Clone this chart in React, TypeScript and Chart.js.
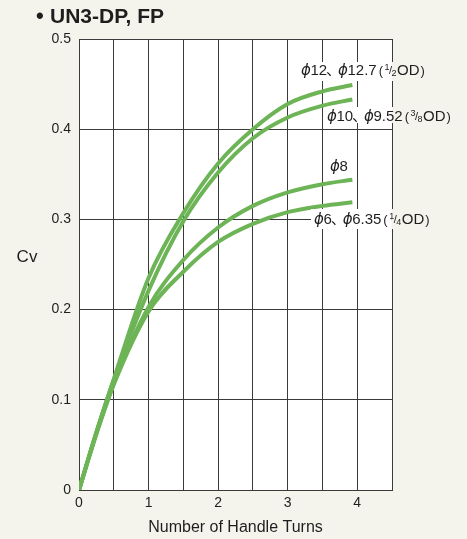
import React, { useEffect, useRef } from 'react';
import { Chart, registerables } from 'chart.js';

Chart.register(...registerables);

// ---- data ----
const turns = [0, 0.25, 0.5, 1, 1.5, 2, 2.5, 3, 3.5, 3.93];
const cv12 = [0, 0.064, 0.123, 0.235, 0.307, 0.362, 0.4, 0.428, 0.442, 0.449];
const cv10 = [0, 0.064, 0.122, 0.221, 0.298, 0.352, 0.39, 0.413, 0.426, 0.433];
const cv8 = [0, 0.063, 0.118, 0.203, 0.255, 0.291, 0.315, 0.33, 0.339, 0.344];
const cv6 = [0, 0.062, 0.117, 0.198, 0.242, 0.275, 0.295, 0.308, 0.315, 0.319];

const seriesNames = ['ϕ12、ϕ12.7', 'ϕ10、ϕ9.52', 'ϕ8', 'ϕ6、ϕ6.35'];
const seriesFractions: (string[] | null)[] = [['1', '2'], ['3', '8'], null, ['1', '4']];
const titleText = 'UN3-DP, FP';
const xTitle = 'Number of Handle Turns';
const yTitle = 'Cv';

// ---- styles ----
const FONT = '"Liberation Sans", Arial, "Noto Sans CJK JP", sans-serif';
const CREAM = '#f5f4ec';
const GREEN = '#6db456';
const GRID = '#3a3a3a';
const TEXT = '#1e1e1e';

// label placement (pixel style settings)
const labelPos = [
  { x: 301, y: 71, bg: [298, 62, 134, 19] },
  { x: 327, y: 117, bg: [324, 107, 134, 16] },
  { x: 330, y: 167, bg: null },
  { x: 314, y: 220, bg: [311, 209, 124, 20] },
];

function drawMain(ctx: CanvasRenderingContext2D, x: number, y: number, text: string) {
  let cx = x;
  for (const ch of Array.from(text)) {
    if (ch === 'ϕ') {
      ctx.font = `italic 15px "DejaVu Sans", sans-serif`;
      ctx.fillText(ch, cx, y);
      cx += ctx.measureText(ch).width - 0.5;
    } else if (ch === '、') {
      ctx.font = `15px ${FONT}`;
      ctx.fillText(ch, cx - 1, y);
      cx += ctx.measureText(ch).width - 4;
    } else {
      ctx.font = `15px ${FONT}`;
      ctx.fillText(ch, cx, y);
      cx += ctx.measureText(ch).width;
    }
  }
  return cx;
}

function drawLabel(ctx: CanvasRenderingContext2D, x: number, y: number, main: string, frac: string[] | null) {
  ctx.textBaseline = 'middle';
  ctx.textAlign = 'left';
  ctx.fillStyle = TEXT;
  let cx = drawMain(ctx, x, y, main);
  if (!frac) return;
  cx += 2;
  ctx.font = `13px ${FONT}`;
  ctx.fillText('(', cx, y);
  cx += ctx.measureText('(').width + 1.5;
  ctx.font = `9px ${FONT}`;
  ctx.fillText(frac[0], cx, y - 3);
  cx += ctx.measureText(frac[0]).width;
  ctx.font = `11px ${FONT}`;
  ctx.fillText('/', cx - 0.5, y);
  cx += ctx.measureText('/').width - 1;
  ctx.font = `9px ${FONT}`;
  ctx.fillText(frac[1], cx, y + 3);
  cx += ctx.measureText(frac[1]).width + 0.5;
  ctx.font = `15px ${FONT}`;
  ctx.fillText('OD', cx, y);
  cx += ctx.measureText('OD').width + 1;
  ctx.font = `13px ${FONT}`;
  ctx.fillText(')', cx, y);
}

const decorPlugin = {
  id: 'decor',
  beforeDraw(chart: any) {
    const { ctx, chartArea: a } = chart;
    ctx.save();
    ctx.fillStyle = CREAM;
    ctx.fillRect(0, 0, chart.width, chart.height);
    ctx.fillStyle = '#ffffff';
    ctx.fillRect(a.left, a.top, a.right - a.left, a.bottom - a.top);
    ctx.restore();
  },
  afterDraw(chart: any) {
    const { ctx, chartArea: a } = chart;
    ctx.save();
    labelPos.forEach((p) => {
      if (!p.bg) return;
      const [bx, by, bw, bh] = p.bg;
      ctx.fillStyle = '#ffffff';
      const inRight = Math.min(bx + bw, a.right - 0.5);
      ctx.fillRect(bx, by, inRight - bx, bh);
      if (bx + bw > a.right - 0.5) {
        ctx.fillStyle = CREAM;
        ctx.fillRect(a.right - 0.5, by, bx + bw - (a.right - 0.5), bh);
      }
    });
    labelPos.forEach((p, i) => drawLabel(ctx, p.x, p.y, seriesNames[i], seriesFractions[i]));

    // title
    ctx.fillStyle = TEXT;
    ctx.textBaseline = 'middle';
    ctx.textAlign = 'left';
    ctx.font = `bold 22px ${FONT}`;
    ctx.fillText('•', 36, 17);
    ctx.font = `bold 21px ${FONT}`;
    ctx.fillText(titleText, 50, 17);

    // axis titles
    ctx.font = `16px ${FONT}`;
    ctx.textAlign = 'center';
    ctx.fillText(xTitle, (a.left + a.right) / 2, 528);
    ctx.font = `17px ${FONT}`;
    ctx.fillText(yTitle, 27, 257);
    ctx.restore();
  },
};

export default function App() {
  const ref = useRef<HTMLCanvasElement | null>(null);
  useEffect(() => {
    if (!ref.current) return;
    const mk = (vals: number[]) => turns.map((t, i) => ({ x: t, y: vals[i] }));
    const ds = (label: string, vals: number[]) => ({
      label,
      data: mk(vals),
      borderColor: GREEN,
      backgroundColor: GREEN,
      borderWidth: 4,
      pointRadius: 0,
      fill: false,
      cubicInterpolationMode: 'monotone' as const,
      borderCapStyle: 'butt' as const,
    });
    const chart = new Chart(ref.current, {
      type: 'line',
      data: {
        datasets: [
          ds(seriesNames[0], cv12),
          ds(seriesNames[1], cv10),
          ds(seriesNames[2], cv8),
          ds(seriesNames[3], cv6),
        ],
      },
      options: {
        animation: false,
        responsive: false,
        maintainAspectRatio: false,
        devicePixelRatio: 1,
        layout: { padding: { left: 0, right: 75, top: 39, bottom: 0 } },
        plugins: {
          legend: { display: false },
          tooltip: { enabled: false },
          title: { display: false },
        },
        scales: {
          x: {
            type: 'linear',
            min: 0,
            max: 4.5,
            afterFit: (s: any) => {
              s.height = 49;
            },
            ticks: {
              stepSize: 0.5,
              autoSkip: false,
              maxRotation: 0,
              padding: 5,
              color: TEXT,
              font: { family: FONT, size: 14 },
              callback: (v: any) => {
                const n = Number(v);
                return Math.abs(n - Math.round(n)) < 1e-6 ? String(Math.round(n)) : '';
              },
            },
            grid: { color: GRID, lineWidth: 1, drawTicks: false },
            border: { color: GRID, width: 1 },
          },
          y: {
            type: 'linear',
            min: 0,
            max: 0.5,
            afterFit: (s: any) => {
              s.width = 79;
            },
            ticks: {
              stepSize: 0.1,
              padding: 8,
              color: TEXT,
              font: { family: FONT, size: 14 },
              callback: (v: any) => {
                const n = Number(v);
                return n === 0 ? '0' : n.toFixed(1);
              },
            },
            grid: { color: GRID, lineWidth: 1, drawTicks: false },
            border: { color: GRID, width: 1 },
          },
        },
      },
      plugins: [decorPlugin],
    });
    return () => chart.destroy();
  }, []);
  return (
    <div style={{ position: 'fixed', left: 0, top: 0, width: 467, height: 539, background: CREAM }}>
      <canvas ref={ref} width={467} height={539} style={{ display: 'block', width: 467, height: 539 }} />
    </div>
  );
}
